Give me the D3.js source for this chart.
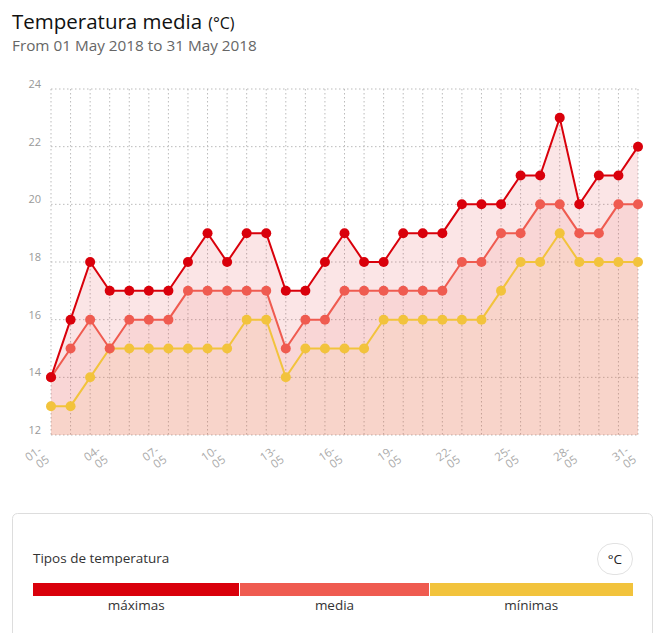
<!DOCTYPE html>
<html>
<head>
<meta charset="utf-8">
<script src="https://cdn.jsdelivr.net/npm/d3@7"></script>
<style>
  html, body { margin: 0; padding: 0; background: #fff; }
  svg { display: block; font-family: "Open Sans", "Noto Sans", sans-serif; }
</style>
</head>
<body>
<svg id="chart" width="659" height="633"></svg>
<script>
// ---- data ----
const days = d3.range(1, 32);
const dayLabels = days.map(d => String(d).padStart(2, "0") + "-05");
const tickDays = [1, 4, 7, 10, 13, 16, 19, 22, 25, 28, 31];
const yTicks = [12, 14, 16, 18, 20, 22, 24];
const maximas = [14,16,18,17,17,17,17,18,19,18,19,19,17,17,18,19,18,18,19,19,19,20,20,20,21,21,23,20,21,21,22];
const media   = [14,15,16,15,16,16,16,17,17,17,17,17,15,16,16,17,17,17,17,17,17,18,18,19,19,20,20,19,19,20,20];
const minimas = [13,13,14,15,15,15,15,15,15,15,16,16,14,15,15,15,15,16,16,16,16,16,16,17,18,18,19,18,18,18,18];
const seriesNames = ["máximas", "media", "mínimas"];
const seriesColors = ["#d9000b", "#ef5b50", "#f2c33c"];
const title = "Temperatura media";
const unit = "(°C)";
const subtitle = "From 01 May 2018 to 31 May 2018";
const legendTitle = "Tipos de temperatura";
const unitBadge = "°C";

const series = [maximas, media, minimas];
const fillOpacity = [0.1, 0.1, 0.07];

// ---- layout ----
const svg = d3.select("#chart");
const plot = { left: 51, right: 638, top: 89, bottom: 435 };

const x = d3.scaleLinear().domain([1, 31]).range([plot.left, plot.right]);
const y = d3.scaleLinear().domain([12, 24]).range([plot.bottom, plot.top]);

// title
const t = svg.append("text").attr("x", 12).attr("y", 29)
  .attr("font-size", 20.5).attr("fill", "#111");
t.append("tspan").text(title);
t.append("tspan").attr("font-size", 16).attr("dx", 6).text(unit);
svg.append("text").attr("x", 12).attr("y", 51)
  .attr("font-size", 15.3).attr("fill", "#666").text(subtitle);

// grid
const grid = svg.append("g");
grid.selectAll("line.h").data(yTicks).join("line")
  .attr("x1", plot.left).attr("x2", plot.right)
  .attr("y1", d => y(d)).attr("y2", d => y(d))
  .attr("stroke", "#bbb").attr("stroke-width", 1).attr("stroke-dasharray", "1.5,2.5");
grid.selectAll("line.v").data(days).join("line")
  .attr("x1", d => x(d)).attr("x2", d => x(d))
  .attr("y1", plot.top).attr("y2", plot.bottom)
  .attr("stroke", "#bbb").attr("stroke-width", 1).attr("stroke-dasharray", "1.5,2.5");

// y axis labels
const yAxis = d3.axisLeft(y).tickValues(yTicks).tickSize(0).tickPadding(0);
const gy = svg.append("g").attr("transform", `translate(${plot.left - 10},-5)`).call(yAxis);
gy.select(".domain").remove();
gy.selectAll("text").attr("font-size", 11).attr("fill", "#999")
  .attr("font-family", "'Open Sans', sans-serif");

// x axis labels
const xAxis = d3.axisBottom(x).tickValues(tickDays).tickSize(0).tickFormat(d => dayLabels[d - 1]);
const gx = svg.append("g").attr("transform", `translate(0,${plot.bottom})`).call(xAxis);
gx.select(".domain").remove();
gx.selectAll(".tick text").each(function (d) {
  const el = d3.select(this);
  const parts = dayLabels[d - 1].split("-");
  el.text(null)
    .attr("y", 0).attr("dy", null)
    .attr("font-size", 11.5).attr("fill", "#aaa")
    .attr("font-family", "'Open Sans', sans-serif")
    .attr("text-anchor", "end")
    .attr("transform", "translate(-9,17) rotate(-35)");
  el.append("tspan").attr("x", 0).attr("y", 0).text(parts[0] + "-");
  el.append("tspan").attr("x", 0).attr("y", 0).attr("dx", 1).attr("dy", 12).text(parts[1]);
});

// areas
const area = d3.area().x((d, i) => x(days[i])).y0(y(12)).y1(d => y(d)).curve(d3.curveLinear);
const line = d3.line().x((d, i) => x(days[i])).y(d => y(d)).curve(d3.curveLinear);

series.forEach((s, k) => {
  svg.append("path").datum(s).attr("d", area)
    .attr("fill", seriesColors[k]).attr("fill-opacity", fillOpacity[k]);
});

// lines & dots (draw min first so max on top)
[2, 1, 0].forEach(k => {
  const s = series[k];
  svg.append("path").datum(s).attr("d", line)
    .attr("fill", "none").attr("stroke", seriesColors[k]).attr("stroke-width", 2);
  svg.append("g").selectAll("circle").data(s).join("circle")
    .attr("cx", (d, i) => x(days[i])).attr("cy", d => y(d)).attr("r", 5)
    .attr("fill", seriesColors[k]);
});

// legend box
svg.append("rect").attr("x", 12.5).attr("y", 513.5).attr("width", 640).attr("height", 140)
  .attr("rx", 5).attr("fill", "#fff").attr("stroke", "#ddd");
svg.append("text").attr("x", 33).attr("y", 563).attr("font-size", 13.5).attr("fill", "#333")
  .text(legendTitle);
svg.append("rect").attr("x", 597.5).attr("y", 543.5).attr("width", 35).attr("height", 31)
  .attr("rx", 15.5).attr("fill", "#fff").attr("stroke", "#e2e2e2");
svg.append("text").attr("x", 615).attr("y", 564).attr("text-anchor", "middle")
  .attr("font-size", 13.5).attr("fill", "#222").text(unitBadge);

const segEdges = [33, 239.5, 429.5, 633];
seriesNames.forEach((n, k) => {
  const x0 = segEdges[k] + (k ? 0.5 : 0), x1 = segEdges[k + 1] - (k < 2 ? 0.5 : 0);
  svg.append("rect").attr("x", x0).attr("y", 583).attr("width", x1 - x0).attr("height", 13)
    .attr("fill", seriesColors[k]);
  svg.append("text").attr("x", (segEdges[k] + segEdges[k + 1]) / 2).attr("y", 610)
    .attr("text-anchor", "middle").attr("font-size", 13.5).attr("fill", "#333").text(n);
});
</script>
</body>
</html>
